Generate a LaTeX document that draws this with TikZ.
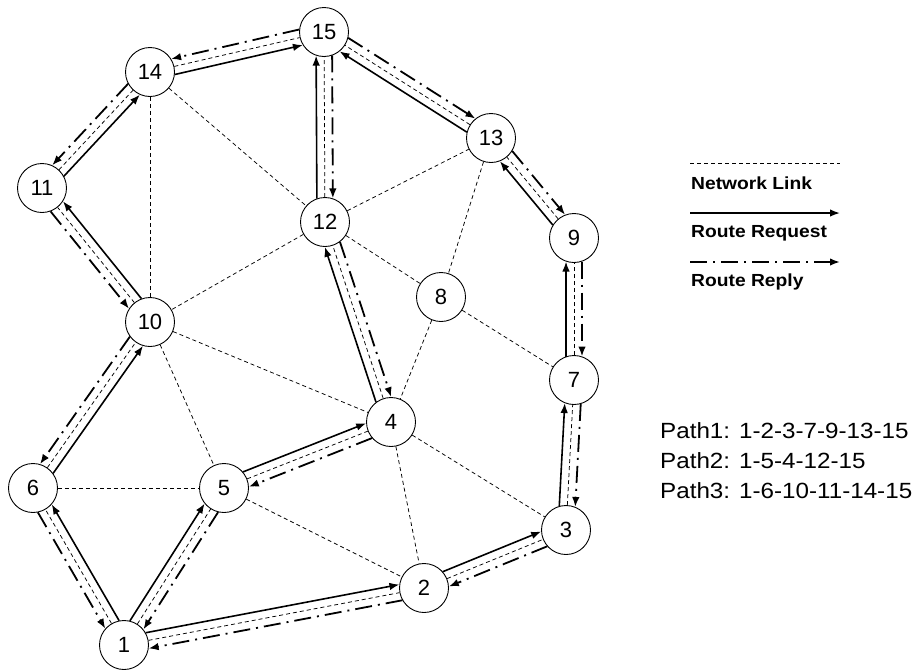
\documentclass[tikz,border=0pt]{standalone}
\usepackage{fontspec}
\setmainfont{Liberation Sans}
\newfontfamily\stretchfont[FakeStretch=1.1]{Liberation Sans}
\usetikzlibrary{calc,arrows.meta}
\begin{document}
\begin{tikzpicture}[x=1pt,y=-1pt,
  nd/.style={circle,draw,line width=0.9pt,minimum size=49pt,inner sep=0pt,font=\fontsize{22}{26}\selectfont},
  netlink/.style={line width=0.75pt,dash pattern=on 4pt off 3pt},
  reqline/.style={line width=1.6pt,-{Latex[length=10pt,width=7.5pt]}},
  repline/.style={line width=1.8pt,dash pattern=on 17pt off 6pt on 2pt off 6pt,-{Latex[length=10pt,width=7.5pt]}},
  trim/.style={shorten <=23.5pt,shorten >=23.5pt},
  legtext/.style={anchor=base west,inner sep=0pt,font=\stretchfont\bfseries\fontsize{17.5}{20}\selectfont},
  pathtext/.style={anchor=base west,inner sep=0pt,font=\stretchfont\fontsize{22}{26}\selectfont},
]
\useasboundingbox (0,0) rectangle (920,670);

\node[nd] (n1)  at (124,645) {1};
\node[nd] (n2)  at (424,588) {2};
\node[nd] (n3)  at (566,530) {3};
\node[nd] (n4)  at (391,422) {4};
\node[nd] (n5)  at (224,488) {5};
\node[nd] (n6)  at (33,488)  {6};
\node[nd] (n7)  at (574,380) {7};
\node[nd] (n8)  at (441,297) {8};
\node[nd] (n9)  at (574,238) {9};
\node[nd] (n10) at (150,322) {10};
\node[nd] (n11) at (42,188)  {11};
\node[nd] (n12) at (325,222) {12};
\node[nd] (n13) at (491,138) {13};
\node[nd] (n14) at (150,72)  {14};
\node[nd] (n15) at (324,32)  {15};

% plain network links
\foreach \a/\b in {n14/n10,n14/n12,n12/n13,n12/n10,n12/n8,n13/n8,n8/n4,n8/n7,n10/n4,n10/n5,n6/n5,n5/n2,n4/n2,n4/n3}
  \draw[netlink] (\a) -- (\b);

\newcommand\plink[4]{%
  \draw[netlink] (#1) -- (#2);
  \draw[reqline,trim] ($(#1)!8pt!#3:(#2)$) -- ($(#2)!8pt!#4:(#1)$);
  \draw[repline,trim] ($(#2)!8pt!#3:(#1)$) -- ($(#1)!8pt!#4:(#2)$);
}
% Path1
\plink{n1}{n2}{90}{-90}
\plink{n2}{n3}{90}{-90}
\plink{n3}{n7}{90}{-90}
\plink{n7}{n9}{90}{-90}
\plink{n9}{n13}{90}{-90}
\plink{n13}{n15}{90}{-90}
% Path2
\plink{n1}{n5}{90}{-90}
\plink{n5}{n4}{90}{-90}
\plink{n4}{n12}{90}{-90}
\plink{n12}{n15}{90}{-90}
% Path3
\plink{n1}{n6}{-90}{90}
\plink{n6}{n10}{-90}{90}
\plink{n10}{n11}{-90}{90}
\plink{n11}{n14}{-90}{90}
\plink{n14}{n15}{-90}{90}

% legend
\coordinate (la1) at (690,163); \coordinate (lb1) at (840,163);
\coordinate (la2) at (690,213); \coordinate (lb2) at (840,213);
\coordinate (la3) at (690,262); \coordinate (lb3) at (840,262);
\draw[netlink] (la1) -- (lb1);
\draw[reqline] (la2) -- (lb2);
\draw[repline] (la3) -- (lb3);
\node[legtext] (t1) at (691,189) {Network Link};
\node[legtext] (t2) at (691,237) {Route Request};
\node[legtext] (t3) at (691,286) {Route Reply};

\node[pathtext] (p1) at (660,438) {Path1: 1-2-3-7-9-13-15};
\node[pathtext] (p2) at (660,468) {Path2: 1-5-4-12-15};
\node[pathtext] (p3) at (660,498) {Path3: 1-6-10-11-14-15};
\end{tikzpicture}
\end{document}
